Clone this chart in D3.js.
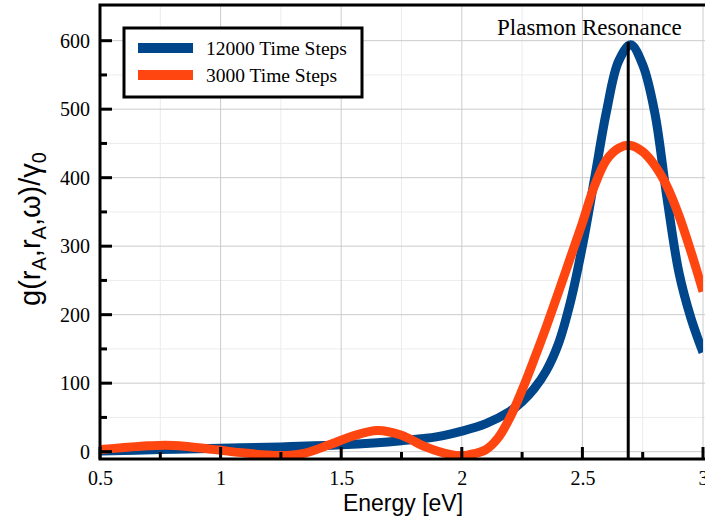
<!DOCTYPE html>
<html>
<head>
<meta charset="utf-8">
<script src="https://cdn.jsdelivr.net/npm/d3@7"></script>
<style>
  body { margin: 0; background: #fff; }
  svg { display: block; }
</style>
</head>
<body>
<svg id="chart" width="705" height="525"></svg>
<script>
// energies (eV) and g/gamma0 values
const energy12000 = [0.5, 0.75, 1.0, 1.25, 1.5, 1.75, 1.9, 2.0, 2.1, 2.2, 2.25, 2.3, 2.35, 2.4, 2.45, 2.5, 2.55, 2.6, 2.65, 2.7, 2.75, 2.8, 2.85, 2.9, 2.95, 3.0]
const values12000 = [1, 3, 5, 7, 10, 16, 22, 30, 41, 59, 73, 92, 118, 157, 218, 300, 398, 497, 570, 594, 565, 495, 372, 262, 195, 145]

const energy3000 = [0.5, 0.6, 0.7, 0.77, 0.85, 0.95, 1.0, 1.1, 1.2, 1.27, 1.35, 1.45, 1.55, 1.65, 1.75, 1.85, 1.95, 2.0, 2.05, 2.1, 2.15, 2.2, 2.25, 2.3, 2.35, 2.4, 2.45, 2.5, 2.55, 2.6, 2.65, 2.7, 2.75, 2.8, 2.85, 2.9, 2.95, 3.0]
const values3000 = [3, 6, 8.5, 9.5, 8, 4, 2, -2, -5, -5.5, -2, 10, 23, 31, 24, 7, -4, -6, -3, 3, 20, 50, 90, 135, 182, 232, 283, 334, 388, 426, 443, 447, 438, 418, 388, 345, 292, 234]

const seriesNames = ['12000 Time Steps', '3000 Time Steps']
const seriesColors = ['#00468b', '#ff4510']

const xTicks = [0.5, 1, 1.5, 2, 2.5, 3]
const xMinorTicks = [0.75, 1.25, 1.75, 2.25, 2.75]
const yTicks = [0, 100, 200, 300, 400, 500, 600]
const yMinorTicks = [50, 150, 250, 350, 450, 550, 650]

const resonance = 2.69
const resonanceTop = 595

const plotL = 100, plotR = 703, plotT = 5, plotB = 459

const x = d3.scaleLinear().domain([0.5, 3]).range([plotL, plotR])
const y = d3.scaleLinear().domain([-10.7, 652.1]).range([plotB, plotT])

const svg = d3.select('#chart')

svg.append('defs').append('clipPath').attr('id', 'plotclip')
  .append('rect')
  .attr('x', plotL).attr('y', plotT)
  .attr('width', plotR - plotL).attr('height', plotB - plotT)

// grid
const grid = svg.append('g')
grid.selectAll('.xminor').data(xMinorTicks).enter().append('line')
  .attr('x1', d => x(d)).attr('x2', d => x(d))
  .attr('y1', plotT).attr('y2', plotB)
  .style('stroke', '#ececec').style('stroke-width', 1)
grid.selectAll('.yminor').data(yMinorTicks).enter().append('line')
  .attr('x1', plotL).attr('x2', 705)
  .attr('y1', d => y(d)).attr('y2', d => y(d))
  .style('stroke', '#ececec').style('stroke-width', 1)
grid.selectAll('.xmajor').data(xTicks).enter().append('line')
  .attr('x1', d => x(d)).attr('x2', d => x(d))
  .attr('y1', plotT).attr('y2', plotB)
  .style('stroke', '#cccccc').style('stroke-width', 1)
grid.selectAll('.ymajor').data(yTicks).enter().append('line')
  .attr('x1', plotL).attr('x2', 705)
  .attr('y1', d => y(d)).attr('y2', d => y(d))
  .style('stroke', '#cccccc').style('stroke-width', 1)

// curves
const line = d3.line()
  .x(d => x(d[0]))
  .y(d => y(d[1]))
  .curve(d3.curveCatmullRom.alpha(0.5))

const series = [
  d3.zip(energy12000, values12000),
  d3.zip(energy3000, values3000)
]

const curves = svg.append('g').attr('clip-path', 'url(#plotclip)')
curves.selectAll('path').data(series).enter().append('path')
  .attr('d', line)
  .style('fill', 'none')
  .style('stroke', (d, i) => seriesColors[i])
  .style('stroke-width', 9)

// resonance marker
svg.append('line')
  .attr('x1', x(resonance)).attr('x2', x(resonance))
  .attr('y1', y(resonanceTop) - 2).attr('y2', plotB)
  .style('stroke', '#000').style('stroke-width', 3)

svg.append('text')
  .attr('x', 497).attr('y', 35)
  .style('font-family', '"Liberation Serif", "Times New Roman", serif')
  .style('font-size', '23px')
  .text('Plasmon Resonance')

// axes
const xAxis = d3.axisBottom(x).tickValues(xTicks).tickFormat(d3.format('')).tickSize(0)
const yAxis = d3.axisLeft(y).tickValues(yTicks).tickSize(0).tickPadding(10)

const gx = svg.append('g').attr('transform', 'translate(0,' + plotB + ')').call(xAxis)
const gy = svg.append('g').attr('transform', 'translate(' + plotL + ',0)').call(yAxis)

gx.select('.domain').remove()
gy.select('.domain').remove()
gx.selectAll('text').attr('dy', '0.71em').attr('y', 12)
svg.selectAll('.tick text')
  .style('font-family', '"Liberation Serif", "Times New Roman", serif')
  .style('font-size', '20px')
  .style('fill', '#000')

// inward ticks
const ticks = svg.append('g').style('stroke', '#000').style('stroke-width', 3)
ticks.selectAll('.ym').data(yTicks).enter().append('line')
  .attr('x1', plotL).attr('x2', plotL + 12)
  .attr('y1', d => y(d)).attr('y2', d => y(d))
ticks.selectAll('.yn').data(yMinorTicks.filter(d => d < 640)).enter().append('line')
  .attr('x1', plotL).attr('x2', plotL + 7)
  .attr('y1', d => y(d)).attr('y2', d => y(d))
ticks.selectAll('.xm').data(xTicks).enter().append('line')
  .attr('x1', d => x(d)).attr('x2', d => x(d))
  .attr('y1', plotB).attr('y2', plotB - 12)
ticks.selectAll('.xn').data(xMinorTicks).enter().append('line')
  .attr('x1', d => x(d)).attr('x2', d => x(d))
  .attr('y1', plotB).attr('y2', plotB - 7)

// frame: left, bottom, top
svg.append('path')
  .attr('d', 'M705,' + plotT + 'H' + plotL + 'V' + plotB + 'H705')
  .style('fill', 'none').style('stroke', '#000').style('stroke-width', 3)

// axis labels
svg.append('text')
  .attr('x', 403).attr('y', 511)
  .attr('text-anchor', 'middle')
  .style('font-family', '"Liberation Sans", Arial, sans-serif')
  .style('font-size', '23px')
  .text('Energy [eV]')

const ylab = svg.append('text')
  .attr('transform', 'translate(40,229) rotate(-90)')
  .attr('text-anchor', 'middle')
  .style('font-family', '"Liberation Sans", Arial, sans-serif')
  .style('font-size', '29px')
ylab.append('tspan').text('g(r')
ylab.append('tspan').attr('dy', 6).style('font-size', '20px').text('A')
ylab.append('tspan').attr('dy', -6).text(',r')
ylab.append('tspan').attr('dy', 6).style('font-size', '20px').text('A')
ylab.append('tspan').attr('dy', -6).text(',ω)/γ')
ylab.append('tspan').attr('dy', 6).style('font-size', '20px').text('0')

// legend
const legend = svg.append('g')
legend.append('rect')
  .attr('x', 124).attr('y', 28).attr('width', 238).attr('height', 69)
  .style('fill', '#fff').style('stroke', '#000').style('stroke-width', 3)
const items = legend.selectAll('.item').data(seriesNames).enter().append('g')
  .attr('transform', (d, i) => 'translate(0,' + (48 + i * 27) + ')')
items.append('line')
  .attr('x1', 138).attr('x2', 193)
  .style('stroke', (d, i) => seriesColors[i])
  .style('stroke-width', 10)
items.append('text')
  .attr('x', 206).attr('y', 7)
  .style('font-family', '"Liberation Serif", "Times New Roman", serif')
  .style('font-size', '19.5px')
  .text(d => d)
</script>
</body>
</html>
